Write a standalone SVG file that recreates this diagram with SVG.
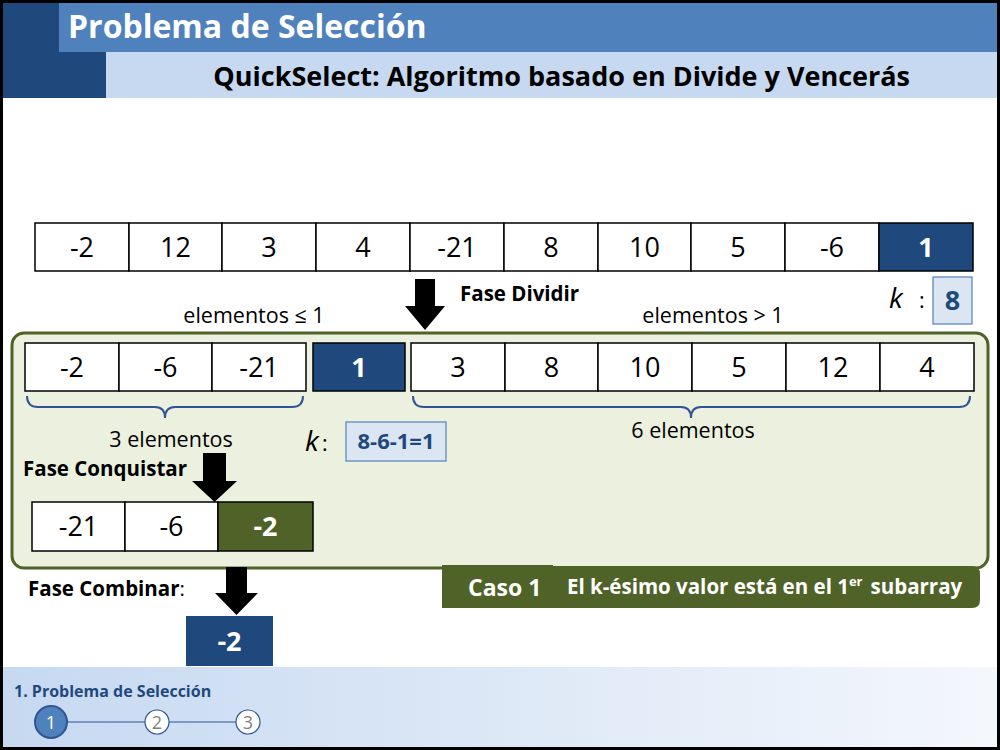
<svg xmlns="http://www.w3.org/2000/svg" width="1000" height="750" viewBox="0 0 1000 750">
<defs>
<linearGradient id="foot" x1="0" y1="0" x2="1" y2="0">
<stop offset="0" stop-color="#C6D9F1"/>
<stop offset="1" stop-color="#F4F7FC"/>
</linearGradient>
<style>
.cell{fill:#FFFFFF;stroke:#000;stroke-width:1.5}
.dark{fill:#1F497D;stroke:#000;stroke-width:1.5}
.green{fill:#4F6228;stroke:#000;stroke-width:1.5}
.num{font-family:"Open Sans","Liberation Sans",sans-serif;font-size:27px;fill:#000;text-anchor:middle}
.numw{font-family:"Open Sans","Liberation Sans",sans-serif;font-size:27px;font-weight:bold;fill:#FFF;text-anchor:middle}
.lbl{font-family:"Open Sans","Liberation Sans",sans-serif;font-size:21.5px;fill:#000}
.bold{font-family:"Open Sans","Liberation Sans",sans-serif;font-size:20.5px;font-weight:bold;fill:#000}
.kk{font-family:"Open Sans","Liberation Sans",sans-serif;font-size:28px;font-style:italic;fill:#000}
.kbox{fill:#DCE6F2;stroke:#4F81BD;stroke-width:1.2}
.ktxt{font-family:"Open Sans","Liberation Sans",sans-serif;font-weight:bold;fill:#1F497D;text-anchor:middle}
.arrow{fill:#000}
.brace{fill:none;stroke:#2F5597;stroke-width:2}
</style>
</defs>
<rect x="0" y="0" width="1000" height="750" fill="#000"/>
<rect x="3" y="3" width="994" height="744" fill="#FFF"/>
<g id="header">
<rect x="3" y="3" width="103" height="95" fill="#1F497D"/>
<rect x="59" y="3" width="938" height="49" fill="#4F81BD"/>
<rect x="106" y="52" width="891" height="46" fill="#C6D9F1"/>
<text x="68" y="38" font-family="'Open Sans','Liberation Sans',sans-serif" font-size="32" font-weight="bold" fill="#FFF">Problema de Selección</text>
<text x="910" y="86" text-anchor="end" font-family="'Open Sans','Liberation Sans',sans-serif" font-size="27" font-weight="bold" fill="#000">QuickSelect: Algoritmo basado en Divide y Vencerás</text>
</g>
<g id="array-top">
<rect class="cell" x="35" y="223" width="94" height="48"/><text class="num" x="82" y="257">-2</text>
<rect class="cell" x="129" y="223" width="93" height="48"/><text class="num" x="175.5" y="257">12</text>
<rect class="cell" x="222" y="223" width="94" height="48"/><text class="num" x="269" y="257">3</text>
<rect class="cell" x="316" y="223" width="94" height="48"/><text class="num" x="363" y="257">4</text>
<rect class="cell" x="410" y="223" width="94" height="48"/><text class="num" x="457" y="257">-21</text>
<rect class="cell" x="504" y="223" width="94" height="48"/><text class="num" x="551" y="257">8</text>
<rect class="cell" x="598" y="223" width="93" height="48"/><text class="num" x="644.5" y="257">10</text>
<rect class="cell" x="691" y="223" width="94" height="48"/><text class="num" x="738" y="257">5</text>
<rect class="cell" x="785" y="223" width="94" height="48"/><text class="num" x="832" y="257">-6</text>
<rect class="dark" x="879" y="223" width="94" height="48"/><text class="numw" x="926" y="257">1</text>
</g>
<g id="k-top">
<text class="kk" x="889" y="308">k</text><text class="lbl" x="919" y="308" font-size="26">:</text>
<rect class="kbox" x="933" y="277" width="39" height="47"/>
<text class="ktxt" x="952.5" y="310" font-size="27">8</text>
</g>
<g id="labels-top">
<text class="bold" x="460" y="301">Fase Dividir</text>
<text class="lbl" x="254" y="323" text-anchor="middle">elementos ≤ 1</text>
<text class="lbl" x="713" y="323" text-anchor="middle">elementos &gt; 1</text>
</g>
<g id="green-panel">
<rect x="12" y="333" width="976" height="235" rx="12" ry="12" fill="#EBF1DE" stroke="#4F6228" stroke-width="3"/>
</g>
<g id="array-split">
<rect class="cell" x="25" y="343" width="94" height="48"/><text class="num" x="72" y="377">-2</text>
<rect class="cell" x="119" y="343" width="93" height="48"/><text class="num" x="165.5" y="377">-6</text>
<rect class="cell" x="212" y="343" width="94" height="48"/><text class="num" x="259" y="377">-21</text>
<rect class="dark" x="313" y="343" width="92" height="48"/><text class="numw" x="359" y="377">1</text>
<rect class="cell" x="411" y="343" width="94" height="48"/><text class="num" x="458" y="377">3</text>
<rect class="cell" x="505" y="343" width="93" height="48"/><text class="num" x="551.5" y="377">8</text>
<rect class="cell" x="598" y="343" width="94" height="48"/><text class="num" x="645" y="377">10</text>
<rect class="cell" x="692" y="343" width="94" height="48"/><text class="num" x="739" y="377">5</text>
<rect class="cell" x="786" y="343" width="94" height="48"/><text class="num" x="833" y="377">12</text>
<rect class="cell" x="880" y="343" width="94" height="48"/><text class="num" x="927" y="377">4</text>
</g>
<g id="braces">
<path class="brace" d="M27,396 Q27,407 38,407 L155,407 Q165,407 165,418 Q165,407 175,407 L292,407 Q303,407 303,396"/>
<path class="brace" d="M413,396 Q413,407 424,407 L681,407 Q691,407 691,418 Q691,407 701,407 L959,407 Q970,407 970,396"/>
<text class="lbl" x="171" y="447" text-anchor="middle">3 elementos</text>
<text class="lbl" x="693" y="438" text-anchor="middle">6 elementos</text>
</g>
<g id="k-mid">
<text class="kk" x="305" y="451">k</text><text class="lbl" x="322" y="451" font-size="26">:</text>
<rect class="kbox" x="346" y="422" width="100" height="39"/>
<text class="ktxt" x="396" y="449" font-size="22">8-6-1=1</text>
</g>
<g id="conquer">
<text class="bold" x="23" y="476">Fase Conquistar</text>
<rect class="cell" x="32" y="502" width="93" height="49"/><text class="num" x="78.5" y="536">-21</text>
<rect class="cell" x="125" y="502" width="93" height="49"/><text class="num" x="171.5" y="536">-6</text>
<rect class="green" x="218" y="502" width="95" height="49"/><text class="numw" x="265.5" y="536">-2</text>
</g>
<g id="combine">
<text class="bold" x="28" y="596">Fase Combinar<tspan font-weight="normal">:</tspan></text>
<rect x="186" y="616" width="87" height="50" fill="#1F497D"/>
<text class="numw" x="229.5" y="651">-2</text>
</g>
<g id="caso">
<path d="M553,566 L972,566 Q980,566 980,574 L980,600 Q980,608 972,608 L553,608 Z" fill="#4F6228"/>
<rect x="442" y="565" width="111" height="43" fill="#4F6228"/>
<text x="468" y="596" font-family="'Open Sans','Liberation Sans',sans-serif" font-size="23" font-weight="bold" fill="#FFF">Caso 1</text>
<text x="567" y="594" font-family="'Open Sans','Liberation Sans',sans-serif" font-size="20.5" font-weight="bold" fill="#FFF">El k-ésimo valor está en el 1<tspan font-size="13" dy="-8">er</tspan><tspan dy="8" dx="8">subarray</tspan></text>
</g>
<g id="connectors">
<path class="arrow" d="M415,279 L435,279 L435,306 L445,306 L425,330 L405,306 L415,306 Z"/>
<path class="arrow" d="M203,453 L226,453 L226,481 L237,481 L214.5,502 L192,481 L203,481 Z"/>
<path class="arrow" d="M226,567 L247,567 L247,593 L258,593 L236.5,615 L215,593 L226,593 Z"/>
</g>
<g id="footer">
<rect x="3" y="667" width="994" height="80" fill="url(#foot)"/>
<text x="14" y="697" font-family="'Open Sans','Liberation Sans',sans-serif" font-size="16" font-weight="bold" fill="#1F497D">1. Problema de Selección</text>
<line x1="67" y1="722" x2="145" y2="722" stroke="#2F5597" stroke-width="1.2"/>
<line x1="169" y1="722" x2="236" y2="722" stroke="#2F5597" stroke-width="1.2"/>
<circle cx="51" cy="722" r="16" fill="#4F81BD" stroke="#2F5597" stroke-width="2"/>
<text x="51" y="729" text-anchor="middle" font-family="'Open Sans','Liberation Sans',sans-serif" font-size="18" fill="#FFF">1</text>
<circle cx="157" cy="722" r="12" fill="#FFF" stroke="#2F5597" stroke-width="1.2"/>
<text x="157" y="729" text-anchor="middle" font-family="'Open Sans','Liberation Sans',sans-serif" font-size="18" fill="#7F7F7F">2</text>
<circle cx="248" cy="722" r="12" fill="#FFF" stroke="#2F5597" stroke-width="1.2"/>
<text x="248" y="729" text-anchor="middle" font-family="'Open Sans','Liberation Sans',sans-serif" font-size="18" fill="#7F7F7F">3</text>
</g>
</svg>
